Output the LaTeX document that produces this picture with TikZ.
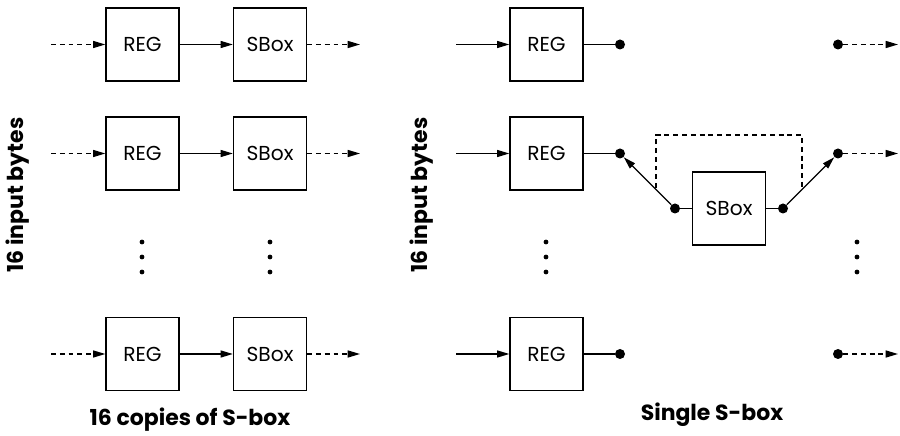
\documentclass[tikz,border=0pt]{standalone}
\usepackage{fontspec}
\setmainfont{Poppins}
\usetikzlibrary{arrows.meta,positioning}

\begin{document}
\begin{tikzpicture}[
    x=0.02cm, y=0.02cm,
    blk/.style={draw, line width=0.75pt, minimum size=1.46cm, inner sep=0pt, font=\fontsize{11.5}{13}\selectfont},
    pin/.style={circle, fill, inner sep=0pt, minimum size=0.2cm},
    arr/.style={-{Triangle[length=7pt,width=4pt]}, line width=0.75pt},
    darr/.style={arr, dash pattern=on 2.8pt off 2.2pt},
    wire/.style={line width=0.75pt},
    side/.style={font=\fontsize{12.5}{14}\selectfont\bfseries, rotate=90},
    title/.style={font=\fontsize{12.5}{14}\selectfont\bfseries}
]
  \useasboundingbox (0,0) rectangle (900,436);

  % Left: one S-box per byte
  \node[blk] (ra) at (142.5,391.5) {REG};
  \node[blk] (sa) at (270,391.5) {SBox};
  \node[blk] (rb) at (142.5,282.5) {REG};
  \node[blk] (sb) at (270,282.5) {SBox};
  \node[blk] (rd) at (142.5,82) {REG};
  \node[blk] (sd) at (270,82) {SBox};

  \coordinate (ina) at (51,391.5);  \coordinate (outa) at (360,391.5);
  \coordinate (inb) at (51,282.5);  \coordinate (outb) at (360,282.5);
  \coordinate (ind) at (51,82);     \coordinate (outd) at (360,82);

  \draw[darr] (ina) -- (ra);  \draw[arr] (ra) -- (sa);  \draw[darr] (sa) -- (outa);
  \draw[darr] (inb) -- (rb);  \draw[arr] (rb) -- (sb);  \draw[darr] (sb) -- (outb);
  \draw[darr] (ind) -- (rd);  \draw[arr] (rd) -- (sd);  \draw[darr] (sd) -- (outd);

  \foreach \px in {142,270} {
    \foreach \py in {194,179,164} \fill (\px,\py) circle (2.4);
  }

  \node[side] (byl) at (18,241) {16 input bytes};
  \node[title] (cpl) at (190,16) {16 copies of S-box};

  % Right: a single shared S-box
  \node[blk] (qa) at (546.5,391.5) {REG};
  \node[blk] (qb) at (546.5,282.5) {REG};
  \node[blk] (qd) at (546.5,82) {REG};

  \coordinate (jna) at (456,391.5);
  \coordinate (jnb) at (456,282.5);
  \coordinate (jnd) at (456,82);
  \draw[arr] (jna) -- (qa);
  \draw[arr] (jnb) -- (qb);
  \draw[arr] (jnd) -- (qd);

  \node[pin] (pa) at (620,391.5) {};
  \node[pin] (pb) at (620,282.5) {};
  \node[pin] (pd) at (620,82) {};
  \node[pin] (oa) at (838,391.5) {};
  \node[pin] (ob) at (838,282.5) {};
  \node[pin] (od) at (838,82) {};

  \draw[wire, line width=1.05pt] (qa) -- (pa);
  \draw[wire] (qb) -- (pb);
  \draw[wire] (qd) -- (pd);

  \coordinate (xa) at (898,391.5);
  \coordinate (xb) at (898,282.5);
  \coordinate (xd) at (898,82);
  \draw[darr] (oa) -- (xa);
  \draw[darr] (ob) -- (xb);
  \draw[darr] (od) -- (xd);

  \node[blk] (one) at (729,227.5) {SBox};
  \node[pin] (sl) at (675,227.5) {};
  \node[pin] (sr) at (783,227.5) {};
  \draw[wire] (sl) -- (one);
  \draw[wire] (one) -- (sr);
  \draw[arr] (sl) -- (pb);
  \draw[arr] (sr) -- (ob);

  % dashed bypass
  \coordinate (bl) at (656,248);
  \coordinate (br) at (802,248);
  \draw[wire, dash pattern=on 2.8pt off 2.2pt] (bl) -- (656,301) -- (802,301) -- (br);

  \foreach \px in {546,857} {
    \foreach \py in {194,179,164} \fill (\px,\py) circle (2.4);
  }

  \node[side] (byr) at (422,241) {16 input bytes};
  \node[title] (cpr) at (712,21) {Single S-box};
\end{tikzpicture}
\end{document}
